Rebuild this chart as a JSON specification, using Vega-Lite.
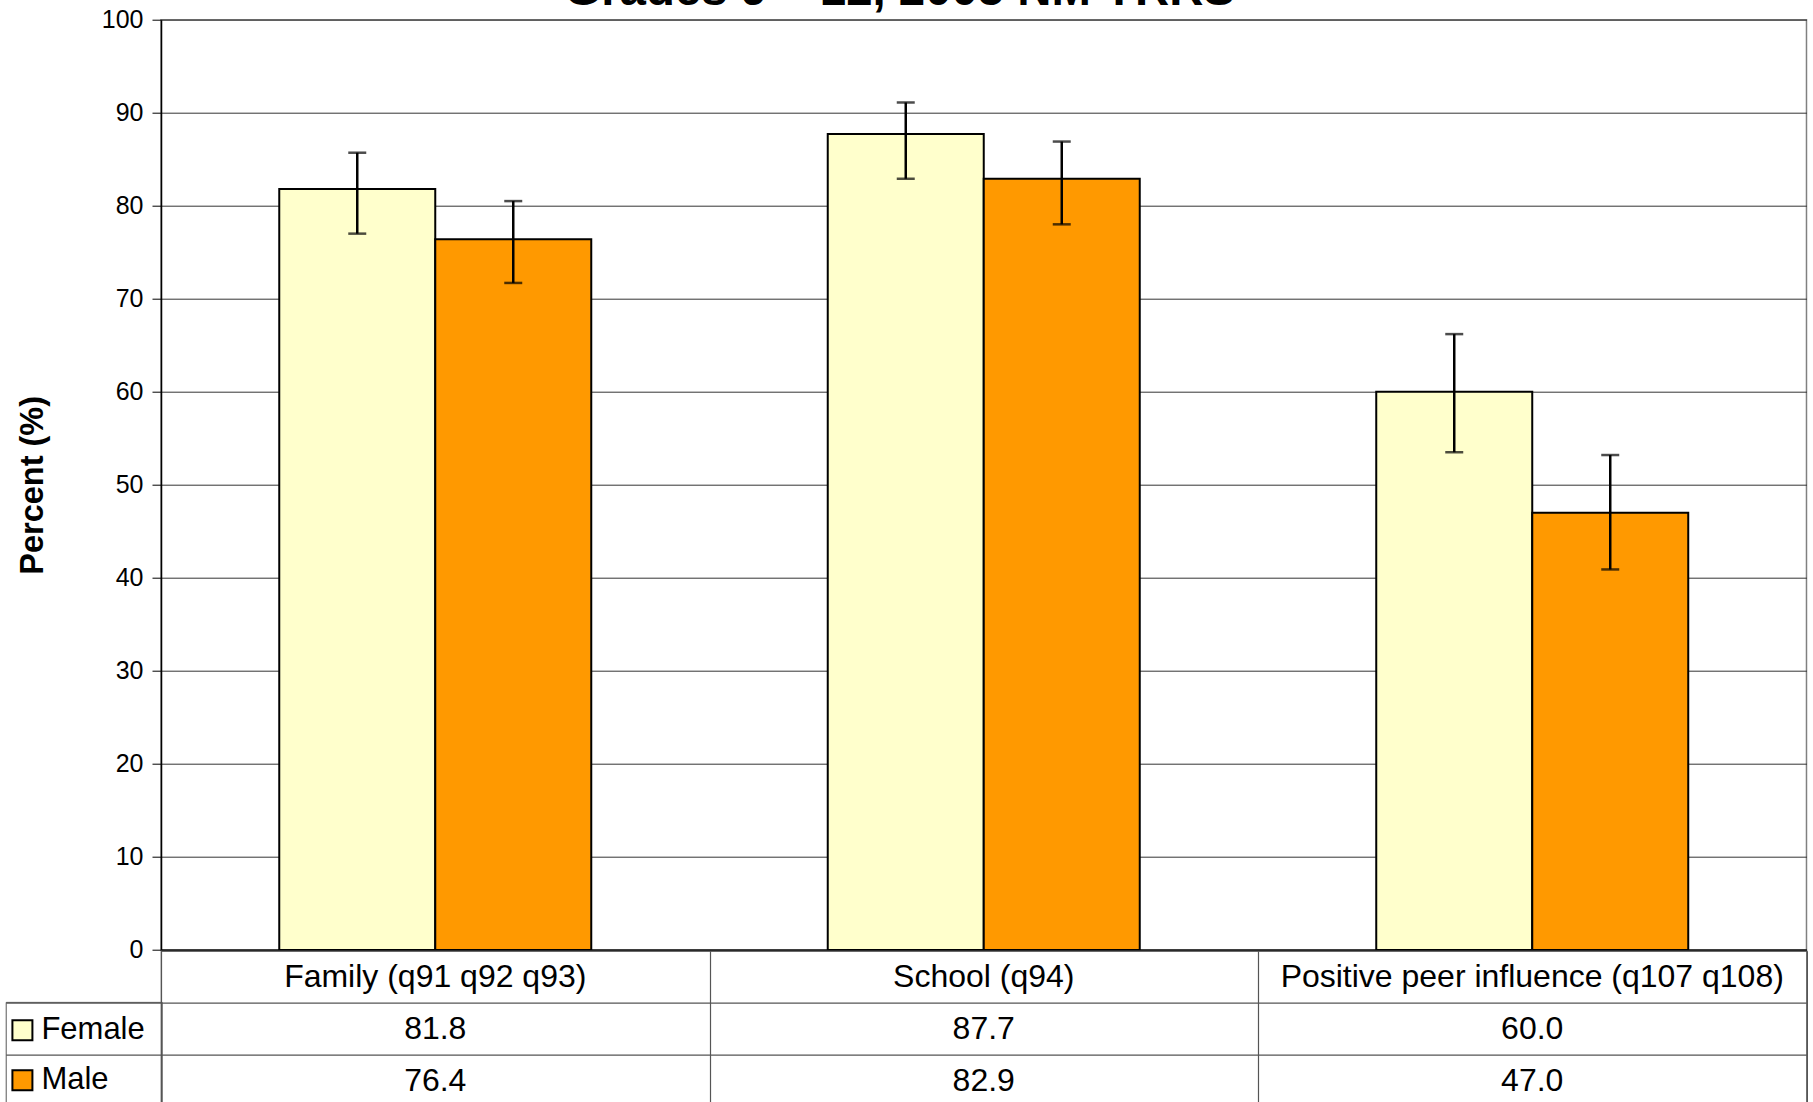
{
  "$schema": "https://vega.github.io/schema/vega-lite/v6.json",
  "background": "white",
  "padding": {"left": 4, "top": -34.3, "right": 0, "bottom": 0},
  "datasets": {
    "d": [
      {"cat": "Family (q91 q92 q93)", "sex": "Female", "value": 81.8, "lo": 77.0, "hi": 85.7},
      {"cat": "Family (q91 q92 q93)", "sex": "Male", "value": 76.4, "lo": 71.7, "hi": 80.5},
      {"cat": "School (q94)", "sex": "Female", "value": 87.7, "lo": 82.9, "hi": 91.1},
      {"cat": "School (q94)", "sex": "Male", "value": 82.9, "lo": 78.0, "hi": 86.9},
      {"cat": "Positive peer influence (q107 q108)", "sex": "Female", "value": 60.0, "lo": 53.5, "hi": 66.2},
      {"cat": "Positive peer influence (q107 q108)", "sex": "Male", "value": 47.0, "lo": 40.9, "hi": 53.2}
    ]
  },
  "spacing": 0,
  "bounds": "flush",
  "resolve": {"scale": {"x": "independent", "y": "independent", "color": "shared"}, "legend": {"color": "shared"}},
  "vconcat": [
    {
      "width": 1645.5,
      "height": 930.2,
      "view": {"stroke": "#808080", "strokeWidth": 1.5},
      "title": {"text": "Grades 9 – 12, 2005 NM YRRS", "fontSize": 47.4, "font": "Liberation Sans", "fontWeight": "bold", "color": "black", "anchor": "middle", "frame": "bounds", "offset": -54.4, "baseline": "bottom", "dx": -12},
      "data": {"name": "d"},
      "encoding": {
        "x": {"field": "cat", "type": "nominal", "sort": null,
          "scale": {"domain": ["Family (q91 q92 q93)", "School (q94)", "Positive peer influence (q107 q108)"], "paddingInner": 0, "paddingOuter": 0},
          "axis": {"labels": false, "ticks": false, "title": null, "domain": true, "domainColor": "black", "domainWidth": 2, "grid": false, "orient": "bottom"}},
        "xOffset": {"field": "sex", "type": "nominal", "scale": {"domain": ["Female", "Male"], "paddingInner": 0, "paddingOuter": 0.758}}
      },
      "layer": [
        {
          "mark": {"type": "bar", "stroke": "black", "strokeWidth": 2},
          "encoding": {
            "y": {"field": "value", "type": "quantitative", "title": "Percent (%)",
              "scale": {"domain": [0, 100], "nice": false},
              "axis": {"values": [0, 10, 20, 30, 40, 50, 60, 70, 80, 90, 100], "grid": true, "gridColor": "#333", "gridWidth": 1,
                "domainColor": "black", "domainWidth": 1.5, "tickColor": "black", "tickSize": 9, "tickWidth": 1,
                "labelFontSize": 25, "labelFont": "Liberation Sans", "labelColor": "black", "labelPadding": 9,
                "titleFontSize": 32.5, "titleFont": "Liberation Sans", "titleFontWeight": "bold", "titleColor": "black", "titlePadding": 51.5}},
            "color": {"field": "sex", "type": "nominal",
              "scale": {"domain": ["Female", "Male"], "range": ["#FFFFCC", "#FF9900"]},
              "legend": {"orient": "none", "legendX": -155.3, "legendY": 982.2,
                "title": " ", "titleFontSize": 2, "titlePadding": -5.15,
                "strokeColor": "#555", "padding": 16.1,
                "symbolType": "square", "symbolSize": 400, "symbolOffset": -14.9,
                "symbolStrokeColor": "black", "symbolStrokeWidth": 2, "symbolOpacity": 1, "labelFontSize": 31, "labelFont": "Liberation Sans",
                "labelColor": "black", "labelOffset": 3.5, "rowPadding": 18}}
          }
        },
        {
          "mark": {"type": "rule", "strokeWidth": 2.5, "color": "black"},
          "encoding": {"y": {"field": "lo", "type": "quantitative", "title": "Percent (%)"}, "y2": {"field": "hi"}}
        },
        {
          "mark": {"type": "tick", "orient": "horizontal", "size": 18, "thickness": 2.5, "color": "black"},
          "encoding": {"y": {"field": "lo", "type": "quantitative", "title": "Percent (%)"}}
        },
        {
          "mark": {"type": "tick", "orient": "horizontal", "size": 18, "thickness": 2.5, "color": "black"},
          "encoding": {"y": {"field": "hi", "type": "quantitative", "title": "Percent (%)"}}
        }
      ]
    },
    {
      "width": 1645.5,
      "height": 156,
      "view": {"stroke": "#555", "strokeWidth": 1.2},
      "data": {"name": "d"},
      "encoding": {
        "x": {"field": "cat", "type": "nominal", "sort": null,
          "scale": {"domain": ["Family (q91 q92 q93)", "School (q94)", "Positive peer influence (q107 q108)"], "paddingInner": 0, "paddingOuter": 0},
          "axis": {"labels": false, "ticks": false, "domain": false, "title": null, "grid": true, "tickBand": "extent", "gridColor": "#555", "gridWidth": 1.2}}
      },
      "layer": [
        {
          "transform": [{"filter": "datum.sex == 'Female'"}],
          "mark": {"type": "text", "fontSize": 32, "font": "Liberation Sans", "color": "black", "baseline": "middle"},
          "encoding": {
            "y": {"datum": "header", "type": "nominal",
              "scale": {"domain": ["header", "Female", "Male"], "paddingInner": 0, "paddingOuter": 0},
              "axis": {"values": ["Female", "Male"], "tickBand": "extent", "tickExtra": false, "labels": false, "ticks": true, "tickSize": 155.3, "tickColor": "#555", "tickWidth": 1.2,
                "grid": true, "gridColor": "#555", "gridWidth": 1.2, "domain": false, "title": null}},
            "text": {"field": "cat"}
          }
        },
        {
          "mark": {"type": "text", "fontSize": 32, "font": "Liberation Sans", "color": "black", "baseline": "middle"},
          "encoding": {
            "y": {"field": "sex", "type": "nominal", "title": null},
            "text": {"field": "value", "type": "quantitative", "format": ".1f"}
          }
        }
      ]
    }
  ]
}
